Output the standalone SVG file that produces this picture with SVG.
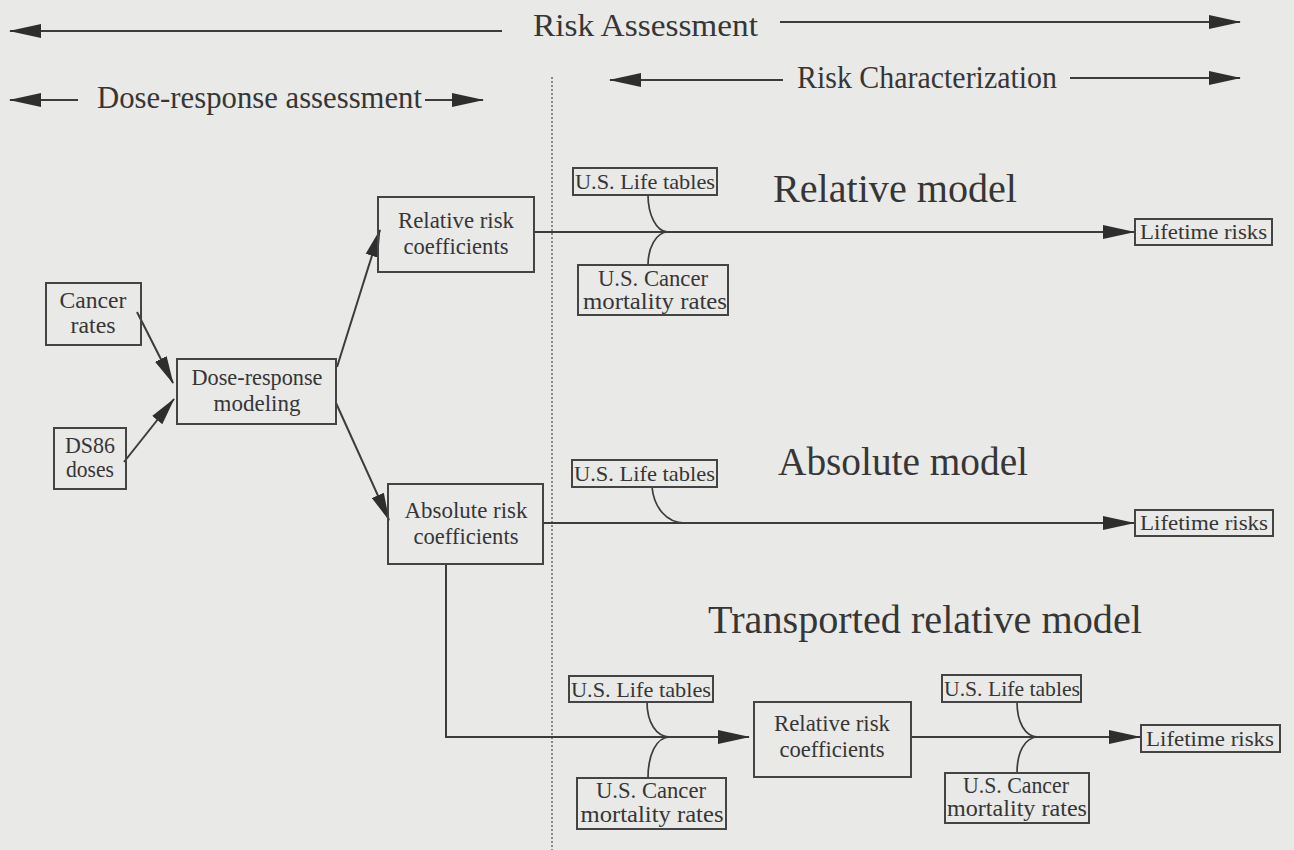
<svg xmlns="http://www.w3.org/2000/svg" width="1294" height="850" viewBox="0 0 1294 850">
<style>
text{font-family:"Liberation Serif","DejaVu Serif",serif;fill:#363636}
.h{font-size:31px}
.m{font-size:41px}
.n{font-size:23px;text-anchor:middle}
.s{font-size:21px}
.box{fill:none;stroke:#444;stroke-width:2}
.ln{fill:none;stroke:#3c3c3c;stroke-width:2}
.cv{fill:none;stroke:#3c3c3c;stroke-width:1.7}
</style>
<defs>
<marker id="ah" markerWidth="32" markerHeight="16" refX="31" refY="8" orient="auto" markerUnits="userSpaceOnUse"><path d="M0,1 L32,8 L0,15 z" fill="#2e2e2e"/></marker>
<marker id="as" markerWidth="28" markerHeight="14" refX="27" refY="7" orient="auto" markerUnits="userSpaceOnUse"><path d="M0,0.5 L28,7 L0,13.5 z" fill="#2e2e2e"/></marker>
</defs>
<rect width="1294" height="850" fill="#e9e9e7"/>

<g id="headers">
<text class="h" x="533" y="36" textLength="225" lengthAdjust="spacingAndGlyphs">Risk Assessment</text>
<text class="h" x="97" y="108" textLength="325" lengthAdjust="spacingAndGlyphs">Dose-response assessment</text>
<text class="h" x="797" y="88" textLength="260" lengthAdjust="spacingAndGlyphs">Risk Characterization</text>
<text class="m" x="773" y="202" textLength="244" lengthAdjust="spacingAndGlyphs">Relative model</text>
<text class="m" x="778" y="475" textLength="250" lengthAdjust="spacingAndGlyphs">Absolute model</text>
<text class="m" x="708" y="633" textLength="434" lengthAdjust="spacingAndGlyphs">Transported relative model</text>
</g>

<g id="connectors">
<line class="ln" x1="502" y1="31" x2="10" y2="31" marker-end="url(#ah)"/>
<line class="ln" x1="780" y1="22" x2="1240" y2="22" marker-end="url(#ah)"/>
<line class="ln" x1="78" y1="100" x2="10" y2="100" marker-end="url(#ah)"/>
<line class="ln" x1="425" y1="100" x2="483" y2="100" marker-end="url(#ah)"/>
<line class="ln" x1="783" y1="80" x2="610" y2="80" marker-end="url(#ah)"/>
<line class="ln" x1="1070" y1="78" x2="1240" y2="78" marker-end="url(#ah)"/>
<line x1="552" y1="77" x2="552" y2="850" stroke="#555" stroke-width="1.3" stroke-dasharray="2 2"/>

<line class="ln" x1="137" y1="312" x2="173" y2="383" marker-end="url(#as)"/>
<line class="ln" x1="124" y1="462" x2="174" y2="399" marker-end="url(#as)"/>
<line class="ln" x1="337" y1="367" x2="380" y2="230" marker-end="url(#as)"/>
<line class="ln" x1="336" y1="403" x2="389" y2="520" marker-end="url(#as)"/>

<line class="ln" x1="534" y1="232" x2="1134" y2="232" marker-end="url(#ah)"/>
<path class="cv" d="M648,195 C648,214 656,232 668,232"/>
<path class="cv" d="M648,265 C648,248 656,232 668,232"/>

<line class="ln" x1="543" y1="523" x2="1134" y2="523" marker-end="url(#ah)"/>
<path class="cv" d="M652,487 C654,507 666,523 685,523"/>

<path class="ln" d="M446,564 L446,737 L749,737" marker-end="url(#ah)"/>
<path class="cv" d="M647,702 C647,722 656,737 670,737"/>
<path class="cv" d="M648,778 C648,755 656,737 670,737"/>
<line class="ln" x1="911" y1="737" x2="1140" y2="737" marker-end="url(#ah)"/>
<path class="cv" d="M1017,702 C1017,722 1025,737 1038,737"/>
<path class="cv" d="M1017,773 C1017,752 1025,737 1038,737"/>
</g>

<g id="cancer-rates">
<rect class="box" x="46" y="283" width="95" height="62"/>
<text class="n" x="93" y="308" textLength="67" lengthAdjust="spacingAndGlyphs">Cancer</text>
<text class="n" x="93" y="333" textLength="45" lengthAdjust="spacingAndGlyphs">rates</text>
</g>
<g id="ds86-doses">
<rect class="box" x="54" y="428" width="72" height="61"/>
<text class="n" x="90" y="453" textLength="50" lengthAdjust="spacingAndGlyphs">DS86</text>
<text class="n" x="90" y="477" textLength="48" lengthAdjust="spacingAndGlyphs">doses</text>
</g>
<g id="dose-response-modeling">
<rect class="box" x="177" y="359" width="159" height="65"/>
<text class="n" x="257" y="385" textLength="131" lengthAdjust="spacingAndGlyphs">Dose-response</text>
<text class="n" x="257" y="411" textLength="87" lengthAdjust="spacingAndGlyphs">modeling</text>
</g>
<g id="relative-risk-coefficients">
<rect class="box" x="378" y="197" width="156" height="75"/>
<text class="n" x="456" y="228" textLength="116" lengthAdjust="spacingAndGlyphs">Relative risk</text>
<text class="n" x="456" y="254" textLength="105" lengthAdjust="spacingAndGlyphs">coefficients</text>
</g>
<g id="absolute-risk-coefficients">
<rect class="box" x="388" y="484" width="155" height="80"/>
<text class="n" x="466" y="518" textLength="123" lengthAdjust="spacingAndGlyphs">Absolute risk</text>
<text class="n" x="466" y="544" textLength="105" lengthAdjust="spacingAndGlyphs">coefficients</text>
</g>

<g id="life-tables-1">
<rect class="box" x="573" y="168" width="144" height="27"/>
<text class="s" x="575" y="189" textLength="140" lengthAdjust="spacingAndGlyphs">U.S. Life tables</text>
</g>
<g id="cancer-mortality-1">
<rect class="box" x="578" y="265" width="150" height="50"/>
<text class="n" x="653" y="286" textLength="110" lengthAdjust="spacingAndGlyphs">U.S. Cancer</text>
<text class="n" x="655" y="309" textLength="144" lengthAdjust="spacingAndGlyphs">mortality rates</text>
</g>
<g id="lifetime-risks-1">
<rect class="box" x="1135" y="219" width="137" height="26"/>
<text class="s" x="1140" y="239" textLength="127" lengthAdjust="spacingAndGlyphs">Lifetime risks</text>
</g>

<g id="life-tables-2">
<rect class="box" x="572" y="460" width="145" height="27"/>
<text class="s" x="574" y="481" textLength="141" lengthAdjust="spacingAndGlyphs">U.S. Life tables</text>
</g>
<g id="lifetime-risks-2">
<rect class="box" x="1135" y="510" width="138" height="26"/>
<text class="s" x="1140" y="530" textLength="128" lengthAdjust="spacingAndGlyphs">Lifetime risks</text>
</g>

<g id="life-tables-3">
<rect class="box" x="569" y="676" width="144" height="26"/>
<text class="s" x="571" y="697" textLength="140" lengthAdjust="spacingAndGlyphs">U.S. Life tables</text>
</g>
<g id="cancer-mortality-3">
<rect class="box" x="577" y="778" width="149" height="51"/>
<text class="n" x="651" y="798" textLength="110" lengthAdjust="spacingAndGlyphs">U.S. Cancer</text>
<text class="n" x="652" y="822" textLength="143" lengthAdjust="spacingAndGlyphs">mortality rates</text>
</g>
<g id="relative-risk-coefficients-2">
<rect class="box" x="754" y="702" width="157" height="75"/>
<text class="n" x="832" y="731" textLength="116" lengthAdjust="spacingAndGlyphs">Relative risk</text>
<text class="n" x="832" y="757" textLength="105" lengthAdjust="spacingAndGlyphs">coefficients</text>
</g>
<g id="life-tables-4">
<rect class="box" x="942" y="675" width="139" height="27"/>
<text class="s" x="944" y="696" textLength="136" lengthAdjust="spacingAndGlyphs">U.S. Life tables</text>
</g>
<g id="cancer-mortality-4">
<rect class="box" x="945" y="773" width="144" height="50"/>
<text class="n" x="1016" y="793" textLength="106" lengthAdjust="spacingAndGlyphs">U.S. Cancer</text>
<text class="n" x="1017" y="816" textLength="140" lengthAdjust="spacingAndGlyphs">mortality rates</text>
</g>
<g id="lifetime-risks-3">
<rect class="box" x="1141" y="725" width="139" height="27"/>
<text class="s" x="1146" y="746" textLength="128" lengthAdjust="spacingAndGlyphs">Lifetime risks</text>
</g>
</svg>
